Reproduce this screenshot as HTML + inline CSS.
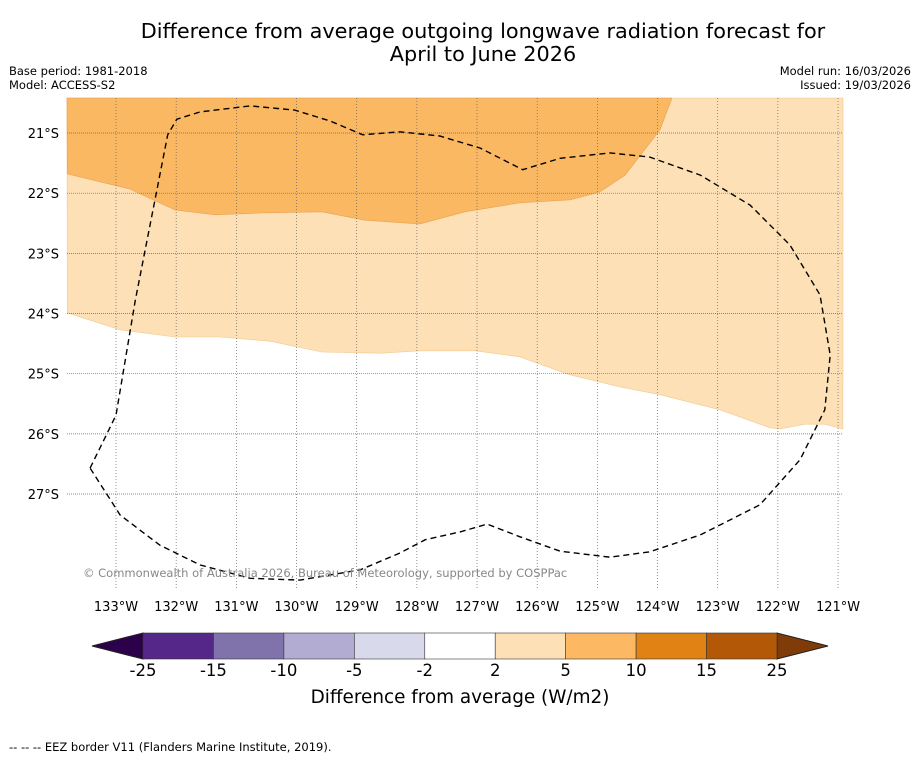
<!DOCTYPE html>
<html><head><meta charset="utf-8"><style>
body{margin:0;background:#fff;font-family:"DejaVu Sans","Liberation Sans",sans-serif;}
svg{display:block}
</style></head><body>
<svg id="c" width="919" height="758" viewBox="0 0 919 758">
<text x="483" y="38" font-size="20.8" text-anchor="middle">Difference from average outgoing longwave radiation forecast for</text>
<text x="483" y="61" font-size="20.8" text-anchor="middle">April to June 2026</text>
<text x="9" y="75" font-size="11.5">Base period: 1981-2018</text>
<text x="9" y="89" font-size="11.5">Model: ACCESS-S2</text>
<text x="911" y="75" font-size="11.5" text-anchor="end">Model run: 16/03/2026</text>
<text x="911" y="89" font-size="11.5" text-anchor="end">Issued: 19/03/2026</text>
<g id="map"></g>
<text x="83" y="577" font-size="11.5" fill="#888">© Commonwealth of Australia 2026, Bureau of Meteorology, supported by COSPPac</text>
<g id="cbar"></g>
<text x="460" y="703" font-size="18.4" text-anchor="middle">Difference from average (W/m2)</text>
<text x="9" y="751" font-size="11.5">--  --  -- EEZ border V11 (Flanders Marine Institute, 2019).</text>
</svg>
<script>
const lonTicks=[133,132,131,130,129,128,127,126,125,124,123,122,121];
const latTicks=[21,22,23,24,25,26,27];
const orangeEdge=[[133.81,21.68],[132.77,21.93],[132.02,22.28],[131.35,22.36],[130.61,22.33],[129.58,22.31],[128.86,22.45],[127.95,22.51],[127.20,22.31],[126.29,22.16],[125.45,22.11],[124.96,21.98],[124.54,21.70],[123.96,20.95],[123.76,20.42]];
const lightEdge=[[133.81,23.99],[132.93,24.27],[132.02,24.39],[131.27,24.39],[130.44,24.46],[129.58,24.64],[128.61,24.66],[127.95,24.62],[127.03,24.62],[126.29,24.72],[125.45,25.02],[124.62,25.22],[123.96,25.35],[122.96,25.60],[122.13,25.90],[121.96,25.92],[121.55,25.84],[121.22,25.84],[120.92,25.92]];
const eez=[[133.43,26.57],[133.00,25.69],[132.68,23.78],[132.14,21.03],[131.99,20.77],[131.60,20.65],[130.77,20.55],[130.03,20.62],[129.44,20.80],[128.90,21.03],[128.28,20.98],[127.62,21.05],[126.95,21.25],[126.24,21.61],[125.62,21.42],[124.79,21.33],[124.13,21.40],[123.29,21.70],[122.46,22.20],[121.80,22.86],[121.30,23.69],[121.13,24.69],[121.22,25.60],[121.63,26.43],[122.30,27.18],[123.29,27.68],[124.13,27.96],[124.79,28.05],[125.62,27.95],[126.29,27.71],[126.83,27.50],[127.28,27.63],[127.86,27.76],[128.28,27.98],[128.94,28.26],[129.94,28.43],[130.77,28.40],[131.60,28.18],[132.27,27.85],[132.93,27.35],[133.43,26.57]];
const cbLabels=["-25","-15","-10","-5","-2","2","5","10","15","25"];
const cbColors=["#542788","#8073ac","#b2abd2","#d8daeb","#ffffff","#fee0b6","#fdb863","#e08214","#b35806"];
const NS="http://www.w3.org/2000/svg";
const PX=60.17, X0=67,X1=843,Y0=98,Y1=590;
const sx=lon=>116+(133-lon)*PX, sy=lat=>133+(lat-21)*PX;
function mk(t,a,p){const e=document.createElementNS(NS,t);for(const k in a)e.setAttribute(k,a[k]);p.appendChild(e);return e;}
const map=document.getElementById('map');
let r=mk('rect',{x:X0,y:Y0,width:X1-X0,height:Y1-Y0,fill:'#fff'},map);

const pts=a=>a.map(p=>sx(p[0]).toFixed(1)+','+sy(p[1]).toFixed(1));
let light=mk('polygon',{points:[X0+','+Y0,...pts(lightEdge),X1+','+Y0].join(' '),fill:'#fde0b6',stroke:'#f3c890','stroke-width':0.6},map);

let org=mk('polygon',{points:[X0+','+Y0,...pts(orangeEdge)].join(' '),fill:'#fbb863',stroke:'#e8a050','stroke-width':0.6},map);

lonTicks.forEach(l=>{const x=sx(l);
 let g=mk('line',{x1:x,x2:x,y1:Y0,y2:Y1,stroke:'#666','stroke-width':0.7,'stroke-dasharray':'1,2'},map);
 
 let t=mk('text',{x:x,y:611,'font-size':13,'text-anchor':'middle'},map);t.textContent=l+'°W';
 });
latTicks.forEach(l=>{const y=sy(l);
 let g=mk('line',{x1:X0,x2:X1,y1:y,y2:y,stroke:'#666','stroke-width':0.7,'stroke-dasharray':'1,1'},map);
 
 let t=mk('text',{x:59,y:y+5,'font-size':13,'text-anchor':'end'},map);t.textContent=l+'°S';
 });
let ez=mk('polyline',{points:pts(eez).join(' '),fill:'none',stroke:'#000','stroke-width':1.4,'stroke-dasharray':'6,4'},map);

const cb=document.getElementById('cbar');
const cx0=143,cx1=777,cy0=633,cy1=659,w=(cx1-cx0)/cbColors.length;
let lt=mk('polygon',{points:`92,646 ${cx0},${cy0} ${cx0},${cy1}`,fill:'#2d004b',stroke:'#222'},cb);

let rt=mk('polygon',{points:`828,646 ${cx1},${cy0} ${cx1},${cy1}`,fill:'#7f3b08',stroke:'#222'},cb);

cbColors.forEach((c,i)=>{let s=mk('rect',{x:cx0+i*w,y:cy0,width:w,height:cy1-cy0,fill:c,stroke:'#333','stroke-width':0.6},cb);
 });
cbLabels.forEach((l,i)=>{let t=mk('text',{x:cx0+i*w,y:676,'font-size':16.5,'text-anchor':'middle'},cb);t.textContent=l;
 });
</script>
</body></html>
